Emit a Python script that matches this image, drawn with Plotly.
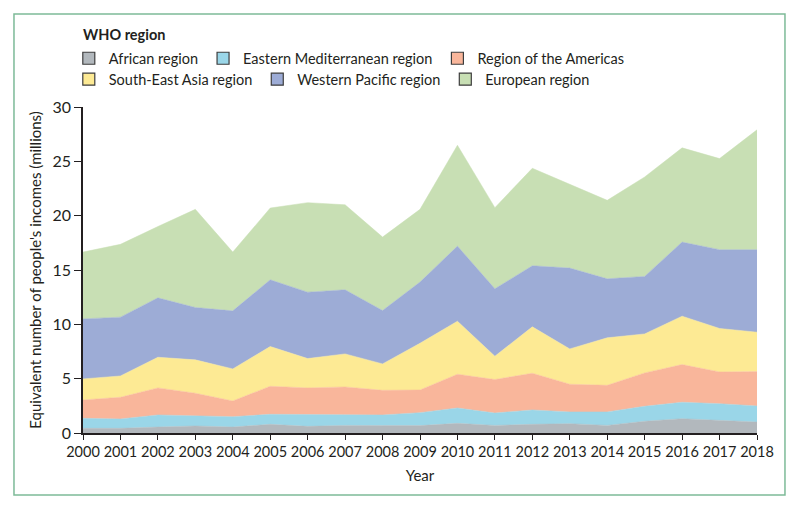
import plotly.graph_objects as go

years = list(range(2000, 2019))
african = [0.43, 0.43, 0.55, 0.65, 0.55, 0.80, 0.61, 0.70, 0.68, 0.68, 0.89, 0.70, 0.80, 0.86, 0.70, 1.08, 1.32, 1.14, 1.01]
eastern_med = [0.92, 0.86, 1.11, 0.95, 0.95, 0.92, 1.11, 1.02, 0.98, 1.19, 1.41, 1.14, 1.32, 1.08, 1.24, 1.38, 1.51, 1.56, 1.48]
americas = [1.69, 2.00, 2.49, 2.06, 1.45, 2.58, 2.43, 2.52, 2.27, 2.09, 3.11, 3.08, 3.38, 2.55, 2.45, 3.07, 3.47, 2.92, 3.16]
se_asia = [1.94, 1.96, 2.82, 3.07, 2.95, 3.66, 2.70, 3.04, 2.43, 4.30, 4.88, 2.15, 4.27, 3.25, 4.37, 3.59, 4.45, 4.00, 3.63]
w_pacific = [5.52, 5.41, 5.47, 4.82, 5.34, 6.14, 6.11, 5.90, 4.91, 5.63, 6.91, 6.20, 5.62, 7.44, 5.43, 5.29, 6.82, 7.25, 7.59]
european = [6.15, 6.70, 6.56, 9.03, 5.41, 6.60, 8.24, 7.82, 6.76, 6.69, 9.28, 7.47, 8.97, 7.71, 7.22, 9.15, 8.67, 8.38, 11.03]

series = [
    ("African region", african, "#b2b8bd", "legend"),
    ("Eastern Mediterranean region", eastern_med, "#9ad6e8", "legend"),
    ("Region of the Americas", americas, "#f9b69b", "legend"),
    ("South-East Asia region", se_asia, "#fdea94", "legend2"),
    ("Western Pacific region", w_pacific, "#9dacd6", "legend2"),
    ("European region", european, "#c8dfb4", "legend2"),
]

FONT = "Lato, 'Open Sans', sans-serif"
TXT = "#231f20"

fig = go.Figure()
for name, vals, col, lg in series:
    fig.add_trace(go.Scatter(
        x=years, y=vals, name=name, stackgroup="one", mode="lines",
        line=dict(width=0.5, color=col), fillcolor=col, showlegend=False,
        hoverinfo="x+y+name",
    ))
for name, vals, col, lg in series:
    fig.add_trace(go.Bar(
        x=[None], y=[None], name=name, legend=lg,
        marker=dict(color=col, line=dict(color="#3d3d3d", width=1.2)),
    ))

fig.update_layout(
    width=800, height=510,
    margin=dict(l=75, r=51, t=99, b=85, autoexpand=False),
    plot_bgcolor="white", paper_bgcolor="white",
    font=dict(family=FONT, size=13, color=TXT),
    showlegend=True,
    legend=dict(
        orientation="h", xref="container", yref="container",
        x=0.076, y=0.9327, xanchor="left", yanchor="top",
        font=dict(size=14.5), bgcolor="rgba(0,0,0,0)", traceorder="normal",
        itemwidth=30,
    ),
    legend2=dict(
        orientation="h", xref="container", yref="container",
        x=0.076, y=0.8916, xanchor="left", yanchor="top", traceorder="normal",
        font=dict(size=14.5), bgcolor="rgba(0,0,0,0)", itemwidth=30,
    ),
    annotations=[dict(
        text="<b>WHO region</b>", xref="paper", yref="paper",
        x=-0.0034, y=1.223, xanchor="left", yanchor="middle",
        showarrow=False, font=dict(size=14.5, color=TXT),
    )],
    xaxis=dict(
        range=[2000, 2018], tickmode="array", tickvals=years,
        ticktext=[str(y) for y in years], automargin=False, tickangle=0,
        showgrid=False, zeroline=False, showline=True, linecolor="#231f20",
        linewidth=1.5, ticks="outside", ticklen=5, tickcolor="#231f20",
        tickfont=dict(size=14.5),
        title=dict(text="Year", font=dict(size=15), standoff=11),
    ),
    yaxis=dict(
        range=[0, 30], tickmode="array", tickvals=[0, 5, 10, 15, 20, 25, 30],
        showgrid=False, zeroline=False, showline=True, linecolor="#231f20",
        linewidth=1.5, ticks="outside", ticklen=7, tickcolor="#231f20",
        tickfont=dict(size=16), automargin=False,
        title=dict(text="Equivalent number of people's incomes (millions)", font=dict(size=15), standoff=7),
    ),
    shapes=[dict(
        type="rect", xref="paper", yref="paper",
        x0=-0.1024, x1=1.0415, y0=-0.1902, y1=1.2853,
        line=dict(color="#7dba98", width=1.5), fillcolor="rgba(0,0,0,0)", layer="below",
    )],
)

fig.write_html("out.html")
